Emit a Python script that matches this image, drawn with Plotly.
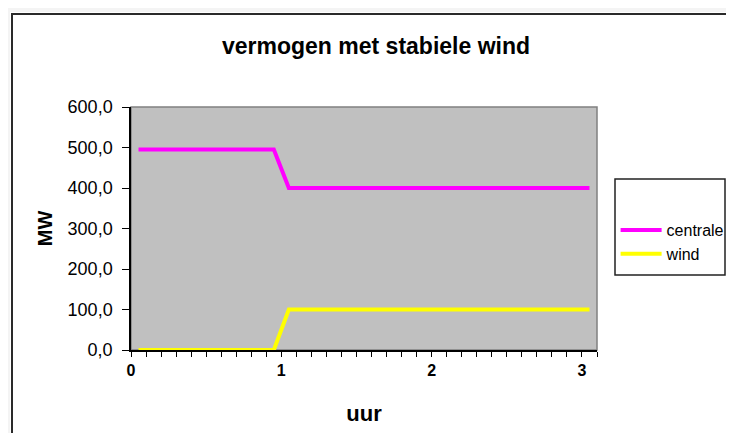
import plotly.graph_objects as go

# data
uur = [0.05, 0.95, 1.05, 3.05]
centrale = [495, 495, 400, 400]
wind = [0, 0, 100, 100]
x_ticks = [0, 1, 2, 3]
y_ticks = [0, 100, 200, 300, 400, 500, 600]

# page body has an 8px margin; figure sized to fit the viewport
OFF = 8
W, H = 734 - 2 * OFF, 441 - 2 * OFF
L, R, T, B = 131 - OFF, 597 - OFF, 107 - OFF, 350 - OFF
pw, ph = R - L, B - T

def px(v):
    return (v - OFF - L) / pw

def py(v):
    return (B - (v - OFF)) / ph

FONT = "Liberation Sans, Arial, sans-serif"

fig = go.Figure()
fig.add_trace(go.Scatter(x=uur, y=centrale, mode="lines", name="centrale",
                         line=dict(color="#ff00ff", width=4)))
fig.add_trace(go.Scatter(x=uur, y=wind, mode="lines", name="wind",
                         line=dict(color="#ffff00", width=4)))

shapes = [
    dict(type="rect", xref="paper", yref="paper", x0=px(0), x1=px(760), y0=py(12), y1=py(0),
         fillcolor="#f4f4f4", line=dict(width=0), layer="below"),
    dict(type="rect", xref="paper", yref="paper", x0=px(0), x1=px(10), y0=py(460), y1=py(12),
         fillcolor="#f4f4f4", line=dict(width=0), layer="below"),
    # outer frame
    dict(type="rect", xref="paper", yref="paper", x0=px(12), x1=px(760), y0=py(470), y1=py(14),
         fillcolor="rgba(0,0,0,0)", line=dict(color="#2a2a2a", width=2), layer="above"),
    # plot-area border
    dict(type="rect", xref="paper", yref="paper", x0=0, x1=1, y0=0, y1=1,
         fillcolor="rgba(0,0,0,0)", line=dict(color="#808080", width=1.5), layer="below"),
    # legend box
    dict(type="rect", xref="paper", yref="paper", x0=px(615), x1=px(725), y0=py(275), y1=py(179),
         fillcolor="white", line=dict(color="#222222", width=1.5), layer="below"),
]

fig.update_layout(
    width=W, height=H,
    margin=dict(l=L, r=W - R, t=T, b=H - B, pad=0, autoexpand=False),
    paper_bgcolor="white",
    plot_bgcolor="#c0c0c0",
    separators=",.",
    font=dict(family=FONT, color="black"),
    title=dict(text="vermogen met stabiele wind", x=(376 - OFF) / W, xanchor="center",
               y=1 - (46 - OFF) / H, yanchor="middle",
               font=dict(family=FONT, size=23, weight="bold", color="black")),
    xaxis=dict(range=[0, 3.1], tickvals=x_ticks, tickformat="d",
               showgrid=False, zeroline=False, showline=True, linecolor="black", linewidth=1.5,
               ticks="outside", ticklen=5, tickcolor="black", tickwidth=1,
               minor=dict(dtick=0.1, ticks="outside", ticklen=5, tickcolor="black", tickwidth=1, showgrid=False),
               tickfont=dict(family=FONT, size=16, weight="bold", color="black"),
               title=dict(text="uur", standoff=28,
                          font=dict(family=FONT, size=22, weight="bold", color="black"))),
    yaxis=dict(range=[0, 600], tickvals=y_ticks, tickformat=".1f",
               showgrid=False, zeroline=False, showline=True, linecolor="black", linewidth=1.5,
               ticks="outside", ticklen=7, tickcolor="black", tickwidth=1,
               ticklabelstandoff=6,
               tickfont=dict(family=FONT, size=18, color="black"),
               title=dict(text="MW", standoff=10,
                          font=dict(family=FONT, size=20, weight="bold", color="black"))),
    legend=dict(x=px(615.6), xanchor="left", y=py(213), yanchor="top",
                bgcolor="rgba(0,0,0,0)", borderwidth=0,
                font=dict(family=FONT, size=16, color="black"),
                itemwidth=41, tracegroupgap=0),
    shapes=shapes,
)

fig.write_html("out.html")
